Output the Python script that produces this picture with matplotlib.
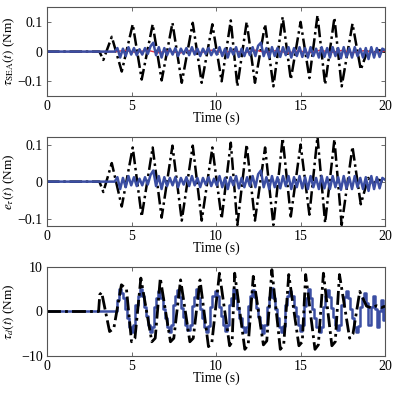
import numpy as np
import matplotlib.pyplot as plt

# black dash-dot curve (peaks / troughs)
sea_t = [0, 3.1, 3.33, 3.83, 4.42, 5.07, 5.6, 6.25, 6.78, 7.42, 7.97, 8.62, 9.15, 9.78,
         10.33, 10.87, 11.26, 11.81, 12.3, 12.9, 13.39, 13.94, 14.42, 15.0, 15.52, 16.0,
         16.45, 17.0, 17.43, 18.07, 18.56, 19.0, 19.3, 19.6, 20.0]
sea_v = [0, 0, -0.028, 0.05, -0.067, 0.092, -0.094, 0.092, -0.097, 0.097, -0.105, 0.097,
         -0.105, 0.092, -0.1, 0.105, -0.117, 0.1, -0.105, 0.092, -0.117, 0.117, -0.094,
         0.1, -0.089, 0.122, -0.111, 0.114, -0.117, 0.094, -0.061, 0.01, -0.005, 0.005, 0.0]

# blue small oscillation, sampled from t=4 to t=20
blue_v = [0, 0.012, -0.02, 0.01, -0.015, 0.015, -0.01,
          0.012, -0.012, 0.008, -0.01, 0.012, -0.008,
          0.018, 0.03, -0.012, 0.015, -0.02, 0.012, -0.012,
          0.01, -0.01, 0.012, -0.015, 0.01, -0.008,
          0.012, -0.012, 0.015, -0.01, 0.01, -0.015,
          0.01, -0.008, 0.012, -0.012, 0.008, -0.01,
          0.015, -0.015, 0.01, -0.02, 0.012, -0.01,
          0.015, -0.018, 0.01, -0.015, 0.012, -0.012,
          0.015, -0.015, 0.02, 0.03, -0.015, 0.012,
          -0.02, 0.015, -0.015, 0.012, -0.018, 0.015,
          -0.012, 0.015, -0.02, 0.012, -0.015, 0.015,
          -0.018, 0.012, -0.02, 0.015, -0.015, 0.01,
          -0.02, 0.015, -0.018, 0.012, -0.02, 0.015,
          -0.015, 0.012, -0.022, 0.015, -0.018, 0.012,
          -0.02, 0.015, -0.015, 0.01, -0.02, 0.012,
          -0.025, 0.015, -0.02, 0.012, -0.018, 0.01, 0.005]

# red reference (top panel only), t=4..20
red_v = [0, 0.004, -0.003, 0.005, -0.004, 0.003, -0.005, 0.004, -0.003, 0.005, -0.004,
         0.003, -0.004, 0.005, -0.003, 0.004, -0.005, 0.003, -0.004, 0.005, -0.003,
         0.004, -0.004, 0.003, -0.003, 0.002]

# bottom panel: black tau_d
td_t = [0, 3.05, 3.12, 3.23, 3.7, 3.95, 4.4, 4.7, 5.0, 5.2, 5.55, 6.2, 6.4, 6.7, 7.3,
        7.5, 7.9, 8.45, 8.65, 9.05, 9.55, 9.75, 10.2, 10.8, 10.95, 11.1, 11.7, 11.9,
        12.2, 12.8, 13.0, 13.3, 13.8, 14.0, 14.3, 14.9, 15.1, 15.3, 15.85, 16.05,
        16.35, 16.85, 17.05, 17.3, 17.9, 18.1, 18.5, 18.9, 19.2, 19.5, 19.8, 20.0]
td_v = [0, 0, 3.8, 4.3, -4.5, -3.8, 6.0, 5.0, -6.8, -6.0, 7.5, -6.8, -6.0, 7.5, -6.8,
        -6.0, 7.1, -6.8, -6.0, 7.1, -7.9, -7.0, 8.6, -7.7, -6.8, 8.6, -8.5, -7.5,
        7.9, -7.5, -6.6, 9.4, -8.5, -7.5, 8.3, -7.7, -6.8, 8.3, -8.5, -7.5,
        8.6, -7.7, -6.8, 8.3, -6.0, -5.0, 4.5, 1.2, 0.8, 1.3, 0.9, 1.2]

# bottom panel: blue stepped signal, t=4..20
td_blue = [0, 2.5,
           5.0, 4.2, 3.0, 0.5, -1.5, -3.5, -4.5, -3.0, 1.5, 3.5,
           5.0, 3.5, 1.0, -1.0, -3.0, -4.5, -3.5, 1.0, 3.0,
           4.5, 3.0, 0.5, -1.5, -3.5, -4.5, -3.0, 1.5, 3.5,
           4.8, 3.2, 0.8, -1.2, -3.0, -4.2, -3.0, 1.2, 3.2,
           5.0, 3.0, 0.5, -1.5, -3.5, -4.6, -3.2, 1.0, 3.5,
           4.6, 3.4, 1.0, -1.0, -3.0, -4.4, -3.0, 1.5, 3.0,
           5.0, 3.0, 0.5, -1.5, -3.5, -4.5, -3.5, 1.2, 3.5,
           4.8, 3.2, 0.8, -1.2, -3.0, -4.8, -3.0, 1.0, 3.2,
           5.2, 3.0, 0.5, -1.5, -3.5, -4.5, -3.2, 1.5, 3.5,
           4.6, 3.5, 1.0, -1.0, -3.0, -4.4, -3.0, 1.2, 3.0,
           5.0, 3.0, 0.5, -1.5, -3.5, -4.6, -3.5, 1.0, 3.5,
           4.8, 3.2, 0.8, -1.2, -3.0, -4.2, -3.0, 1.5, 3.2,
           4.6, 3.0, 0.5, -1.5, -3.5, -4.5, -3.2, 1.0, 3.0,
           4.2, 2.0, -3.0, 1.0, 3.5, 0.5, -3.5, 0.0, 2.5, -2.0, 1.0]

plt.rcParams['font.family'] = ['Liberation Serif', 'DejaVu Serif']
plt.rcParams['mathtext.fontset'] = 'stix'
plt.rcParams['font.size'] = 10

BLUE = '#3b4ea3'
DASHDOT = (0, (5, 1.5, 1, 1.5))

fig = plt.figure(figsize=(4.02, 3.94), dpi=100)
ax1 = fig.add_axes([0.117, 0.756, 0.841, 0.226])
ax2 = fig.add_axes([0.117, 0.426, 0.841, 0.226])
ax3 = fig.add_axes([0.117, 0.0964, 0.841, 0.226])

t_blue = [0] + list(np.linspace(4.0, 20.0, len(blue_v)))
t_red = [0] + list(np.linspace(4.0, 20.0, len(red_v)))
t_tdb = [0] + list(np.linspace(4.0, 20.0, len(td_blue)))

ax1.plot(sea_t, sea_v, color='black', lw=1.8, ls=DASHDOT)
ax1.plot(t_red, [0] + red_v, color='#e03040', lw=1.0)
ax1.plot(t_blue, [0] + blue_v, color=BLUE, lw=1.8)
ax1.set_ylim(-0.15, 0.15)
ax1.set_yticks([-0.1, 0, 0.1])
ax1.set_yticklabels(['\u22120.1', '0', '0.1'])
ax1.set_ylabel(r'$\tau_{\rm SEA}(t)$ (Nm)', fontsize=9.5)

ax2.plot(sea_t, sea_v, color='black', lw=1.8, ls=DASHDOT)
ax2.plot(t_blue, [0] + blue_v, color=BLUE, lw=1.8)
ax2.set_ylim(-0.12, 0.12)
ax2.set_yticks([-0.1, 0, 0.1])
ax2.set_yticklabels(['\u22120.1', '0', '0.1'])
ax2.set_ylabel(r'$e_{\tau}(t)$ (Nm)', fontsize=9.5)

ax3.plot(t_tdb, [0] + td_blue, color=BLUE, lw=1.8, drawstyle='steps-post')
ax3.plot(td_t, td_v, color='black', lw=2.0, ls=DASHDOT)
ax3.set_ylim(-10, 10)
ax3.set_yticks([-10, 0, 10])
ax3.set_yticklabels(['\u221210', '0', '10'])
ax3.set_ylabel(r'$\tau_{d}(t)$ (Nm)', fontsize=9.5)

for ax in (ax1, ax2, ax3):
    ax.set_xlim(0, 20)
    ax.set_xticks([0, 5, 10, 15, 20])
    ax.set_xlabel('Time (s)', labelpad=-1)
    ax.yaxis.set_label_coords(-0.088, 0.5)
    ax.tick_params(direction='in', top=True, right=True, length=3, width=0.6,
                   color='#555555', pad=3)
    for s in ax.spines.values():
        s.set_color('#555555')
        s.set_linewidth(0.8)

fig.savefig('out.png', dpi=100)
